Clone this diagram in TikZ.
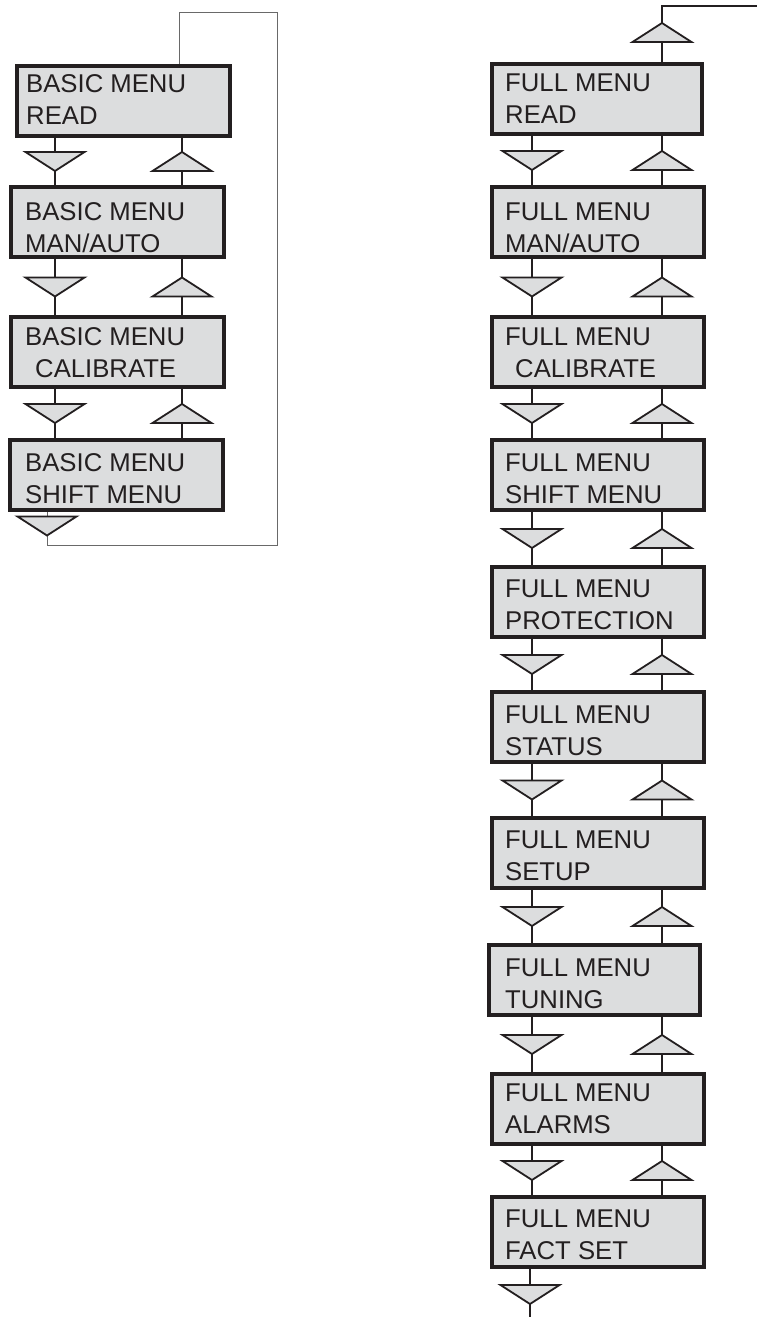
\documentclass[tikz,border=0pt]{standalone}
\usepackage{fontspec}
\setmainfont{Liberation Sans}
\usetikzlibrary{decorations.markings}
\definecolor{panel}{RGB}{220,221,222}
\definecolor{ink}{RGB}{35,31,32}
\definecolor{wire}{RGB}{105,105,105}

\tikzset{
  menubox/.style={draw=ink, fill=panel, line width=4pt, minimum width=212pt,
    minimum height=70pt, inner sep=0pt, outer sep=2pt},
  % anchored on the baseline of the lower line of text
  menutext/.style={anchor=base west, inner sep=0pt, align=left, text=ink,
    font=\fontsize{25.7pt}{31.5pt}\selectfont},
  arrowtri/.style={draw=ink, fill=panel, line width=1.8pt, line join=miter},
  stem/.style={draw=ink, line width=2pt},
  loopwire/.style={draw=wire, line width=1pt},
  % key press triangle placed along a connector, pointing in its direction
  tri at/.style={postaction={decorate}, decoration={markings,
    mark=at position #1 with {\path[arrowtri] (9.5pt,0pt) -- (-9.5pt,29.5pt)
      -- (-9.5pt,-29.5pt) -- cycle;}}},
}

\begin{document}
\begin{tikzpicture}[x=1pt, y=-1pt]
\useasboundingbox (0,0) rectangle (757,1317);

% stem positions
\coordinate (ldn) at (55,0);
\coordinate (lup) at (182,0);
\coordinate (rdn) at (532,0);
\coordinate (rup) at (662,0);
\coordinate (lret) at (47,0);
\coordinate (lloop) at (179,0);
\coordinate (rend) at (530,1317);

% basic menu column
\node[menubox, minimum width=213pt] (l1) at (123.5,101) {};
\node[menubox, minimum width=213pt] (l2) at (117.5,222) {};
\node[menubox, minimum width=213pt] (l3) at (117.5,352) {};
\node[menubox, minimum width=213pt] (l4) at (116,475) {};
\node[menutext] (l1t) at (26,124) {BASIC MENU\\READ};
\node[menutext] (l2t) at (25,252) {BASIC MENU\\MAN/AUTO};
\node[menutext] (l3t) at (25,377) {BASIC MENU\\\hspace*{10pt}CALIBRATE};
\node[menutext] (l4t) at (25,503) {BASIC MENU\\SHIFT MENU};

% full menu column
\node[menubox, minimum width=210pt] (r1) at (597,99) {};
\node[menubox] (r2) at (598,222) {};
\node[menubox] (r3) at (598,352) {};
\node[menubox] (r4) at (598,475) {};
\node[menubox] (r5) at (598,602) {};
\node[menubox] (r6) at (598,727) {};
\node[menubox] (r7) at (598,853) {};
\node[menubox, minimum width=211pt] (r8) at (594.5,980) {};
\node[menubox] (r9) at (598,1109) {};
\node[menubox] (r10) at (598,1232) {};
\node[menutext] (r1t) at (505,123) {FULL MENU\\READ};
\node[menutext] (r2t) at (505,252) {FULL MENU\\MAN/AUTO};
\node[menutext] (r3t) at (505,377) {FULL MENU\\\hspace*{10pt}CALIBRATE};
\node[menutext] (r4t) at (505,503) {FULL MENU\\SHIFT MENU};
\node[menutext] (r5t) at (505,629) {FULL MENU\\PROTECTION};
\node[menutext] (r6t) at (505,755) {FULL MENU\\STATUS};
\node[menutext] (r7t) at (505,880) {FULL MENU\\SETUP};
\node[menutext] (r8t) at (505,1008) {FULL MENU\\TUNING};
\node[menutext] (r9t) at (505,1133) {FULL MENU\\ALARMS};
\node[menutext] (r10t) at (505,1259) {FULL MENU\\FACT SET};

% down / up connectors between neighbouring screens
\foreach \a/\b in {l1/l2, l2/l3, l3/l4}{
  \draw[stem, tri at=0.5] (ldn |- \a.south) -- (ldn |- \b.north);
  \draw[stem, tri at=0.5] (lup |- \b.north) -- (lup |- \a.south);
}
\foreach \a/\b in {r1/r2, r2/r3, r3/r4, r4/r5, r5/r6, r6/r7, r7/r8, r8/r9, r9/r10}{
  \draw[stem, tri at=0.5] (rdn |- \a.south) -- (rdn |- \b.north);
  \draw[stem, tri at=0.5] (rup |- \b.north) -- (rup |- \a.south);
}

% wrap-around from the last basic screen back to the first
\coordinate (lc1) at (47,545);
\coordinate (lc2) at (277,545);
\coordinate (lc3) at (277,12);
\coordinate (lc4) at (179,12);
\draw[loopwire, tri at=14pt] (lret |- l4.south) -- (lc1) -- (lc2) -- (lc3)
  -- (lc4) -- (lloop |- l1.north);

% full menu entry from above and exit below
\coordinate (rtop) at (662,6);
\coordinate (rexit) at (757,6);
\draw[stem, tri at=29.5pt] (rup |- r1.north) -- (rtop) -- (rexit);
\draw[stem, tri at=25.5pt] (rend |- r10.south) -- (rend);
\end{tikzpicture}
\end{document}
